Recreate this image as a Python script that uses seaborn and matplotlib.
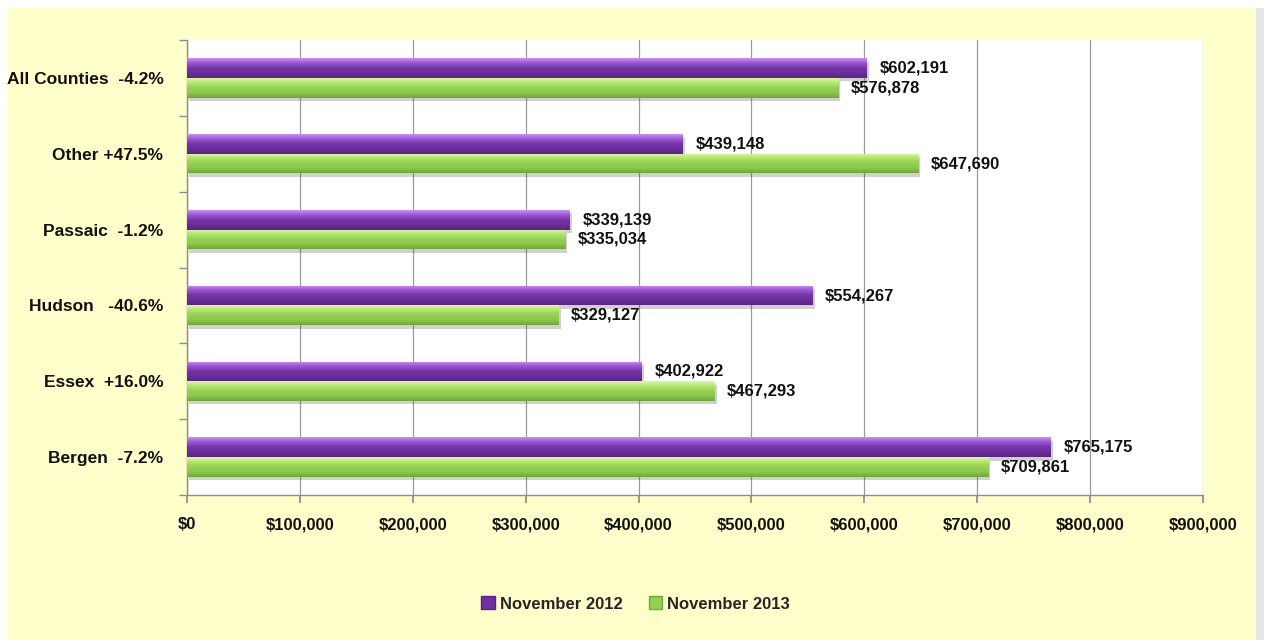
import numpy as np
import pandas as pd
import matplotlib
matplotlib.use("Agg")
import matplotlib.pyplot as plt
import matplotlib.patheffects as pe
from matplotlib.patches import Rectangle, Patch
from matplotlib.ticker import FuncFormatter, MultipleLocator, FixedLocator
from matplotlib.colors import LinearSegmentedColormap
import seaborn as sns

categories = ["All Counties  -4.2%", "Other +47.5%", "Passaic  -1.2%",
              "Hudson   -40.6%", "Essex  +16.0%", "Bergen  -7.2%"]
nov_2012 = [602191, 439148, 339139, 554267, 402922, 765175]
nov_2013 = [576878, 647690, 335034, 329127, 467293, 709861]
series = ["November 2012", "November 2013"]

df = pd.DataFrame({
    "county": categories * 2,
    "value": nov_2012 + nov_2013,
    "period": [series[0]] * len(categories) + [series[1]] * len(categories),
})

purple = "#7030A0"
green = "#92D050"

sns.set_theme(style="white")
plt.rcParams["font.family"] = ["Liberation Sans", "DejaVu Sans"]

fig = plt.figure(figsize=(12.64, 6.4), dpi=100)
fig.patch.set_facecolor("white")
fig.patches.append(Rectangle((8 / 1264, 0), 1248 / 1264, 632 / 640,
                             transform=fig.transFigure, facecolor="#FFFFCC",
                             edgecolor="none", zorder=-10))
fig.patches.append(Rectangle((1256 / 1264, 0), 8 / 1264, 632 / 640,
                             transform=fig.transFigure, facecolor="#E6E6E6",
                             edgecolor="none", zorder=-10))

ax = fig.add_axes([187 / 1264, 1 - 495 / 640, (1203 - 187) / 1264, (495 - 40) / 640])
ax.set_facecolor("white")

sns.barplot(data=df, y="county", x="value", hue="period", order=categories,
            hue_order=series, palette=[purple, green], orient="h",
            width=0.52, gap=0, ax=ax, legend=False, saturation=1)

ax.set_xlim(0, 900000)
ax.set_ylim(len(categories) - 0.5, -0.5)

# gradients & shadows on bars
grad_maps = {
    purple: LinearSegmentedColormap.from_list("p", ["#C990F0", "#9A55D0", "#7434A6", "#6A2D99", "#5A2484"]),
    green: LinearSegmentedColormap.from_list("g", ["#DDF9A8", "#B0E46E", "#94D052", "#8CC84C", "#70A53A"]),
}
xl, yl = ax.get_xlim(), ax.get_ylim()
for i, container in enumerate(ax.containers):
    col = [purple, green][i]
    for p in container:
        p.set_edgecolor("none")
        p.set_path_effects([pe.SimplePatchShadow(offset=(1.5, -2.5), alpha=0.25, shadow_rgbFace="#444444"),
                            pe.Normal()])
        x0, y0 = p.get_x(), p.get_y()
        w, h = p.get_width(), p.get_height()
        grad = np.linspace(0, 1, 64).reshape(-1, 1)
        im = ax.imshow(grad, cmap=grad_maps[col], aspect="auto",
                       extent=(x0, x0 + w, y0 + h, y0), origin="upper", zorder=3,
                       interpolation="bilinear")
        im.set_clip_path(p)
    ax.bar_label(container, labels=[f"${v:,.0f}" for v in container.datavalues],
                 padding=9, fontsize=12, fontweight="bold", color="#111111", zorder=5)
ax.set_xlim(xl)
ax.set_ylim(yl)

# grid and axes
ax.xaxis.set_major_locator(MultipleLocator(100000))
ax.xaxis.set_major_formatter(FuncFormatter(lambda v, _: f"${v:,.0f}"))
ax.grid(axis="x", color="#9A9A9A", linewidth=0.9)
ax.set_axisbelow(True)
for s in ["top", "right"]:
    ax.spines[s].set_visible(False)
for s in ["left", "bottom"]:
    ax.spines[s].set_color("#8C8C8C")
    ax.spines[s].set_linewidth(1)

ax.yaxis.set_minor_locator(FixedLocator(np.arange(-0.5, len(categories), 1.0)))
ax.tick_params(axis="y", which="major", length=0, pad=17)
ax.tick_params(axis="y", which="minor", length=6, color="#8C8C8C", direction="out", left=True)
ax.tick_params(axis="x", which="major", length=6, color="#8C8C8C", direction="out", bottom=True, pad=10)
ax.set_xlabel("")
ax.set_ylabel("")
for t in ax.get_yticklabels():
    t.set_fontsize(12.5)
    t.set_fontweight("bold")
    t.set_color("#111111")
for t in ax.get_xticklabels():
    t.set_fontsize(12)
    t.set_fontweight("bold")
    t.set_color("#111111")

handles = [Patch(facecolor=purple, edgecolor="#5A2484"), Patch(facecolor=green, edgecolor="#72A83C")]
fig.legend(handles, series, loc="center", bbox_to_anchor=(0.503, 1 - 604 / 640), ncol=2,
           frameon=False, handlelength=0.8, handleheight=0.8, handletextpad=0.3,
           columnspacing=1.6, prop={"weight": "bold", "size": 12})

fig.savefig("out.png", dpi=100, facecolor=fig.get_facecolor())
